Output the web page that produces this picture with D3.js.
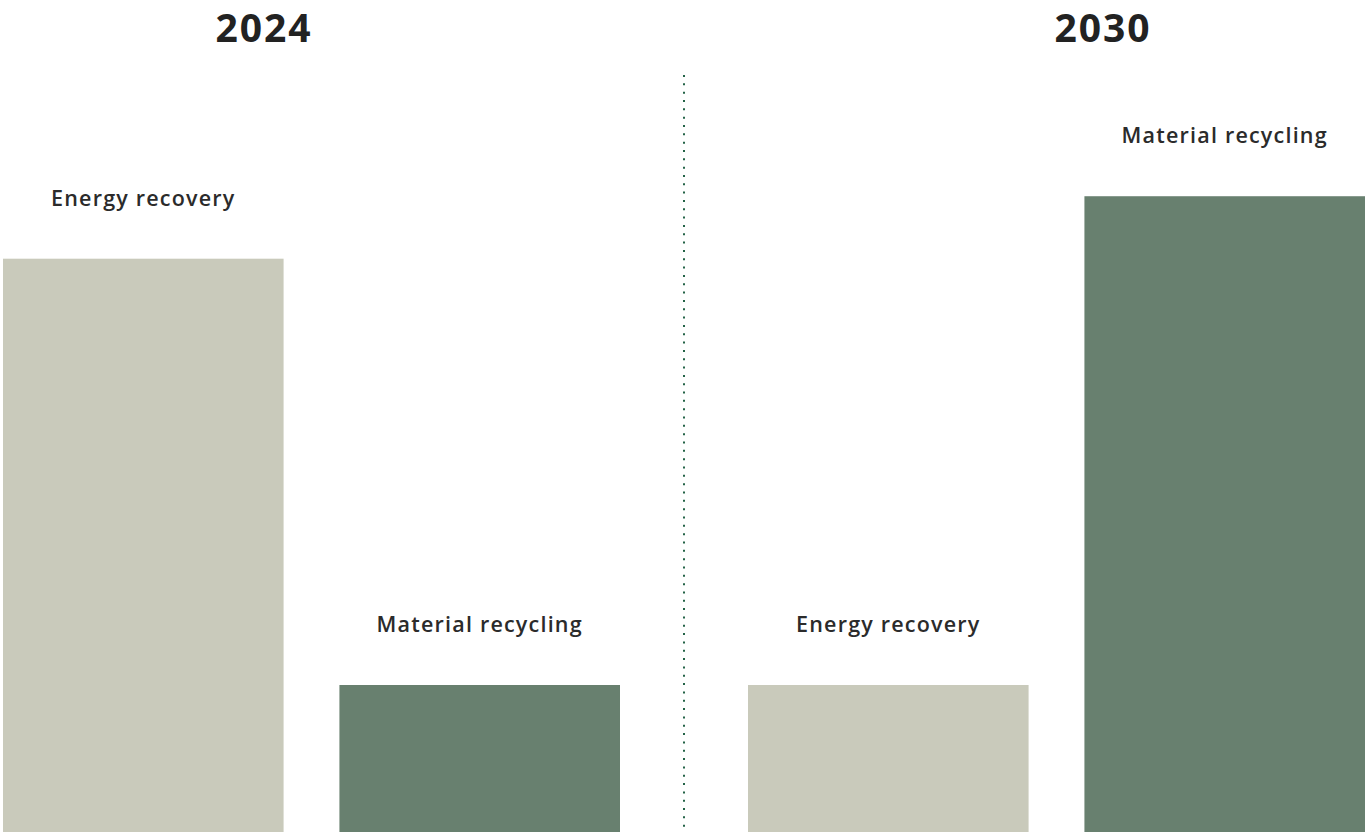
<!DOCTYPE html>
<html><head><meta charset="utf-8">
<script src="https://cdn.jsdelivr.net/npm/d3@7"></script>
<style>
html,body{margin:0;padding:0;background:#fff;}
svg{display:block;}
</style></head>
<body><svg id="chart" width="1367" height="832"></svg>
<script>
const years = ["2024", "2030"];
const categories = ["Energy recovery", "Material recycling"];
const values2024 = [78, 20];
const values2030 = [20, 86.5];
const colors = ["#c9cabb", "#68806f"];

const W = 1367, H = 832;
const svg = d3.select("#chart");
const y = d3.scaleLinear().domain([0, 100]).range([832, 97]);

const panels = [
  {year: years[0], values: values2024, range: [3, 620], titleX: 264},
  {year: years[1], values: values2030, range: [748, 1365], titleX: 1103}
];

panels.forEach(p => {
  const x = d3.scaleBand().domain(categories).range(p.range).paddingInner(0.166).paddingOuter(0);
  const g = svg.append("g");
  g.selectAll("rect").data(categories).join("rect")
    .attr("x", d => x(d))
    .attr("width", x.bandwidth())
    .attr("y", (d, i) => y(p.values[i]))
    .attr("height", (d, i) => y(0) - y(p.values[i]))
    .attr("fill", (d, i) => colors[i]);
  g.selectAll("text.lbl").data(categories).join("text")
    .attr("class", "lbl")
    .attr("x", d => x(d) + x.bandwidth() / 2)
    .attr("y", (d, i) => y(p.values[i]) - 53)
    .attr("text-anchor", "middle")
    .attr("font-family", "'Open Sans', sans-serif")
    .attr("font-weight", 600)
    .attr("font-size", 21.5)
    .attr("letter-spacing", 1.2)
    .attr("fill", "#2b2b2b")
    .text(d => d);
  svg.append("text")
    .attr("x", p.titleX)
    .attr("y", 42)
    .attr("text-anchor", "middle")
    .attr("font-family", "'Open Sans', sans-serif")
    .attr("font-weight", 700)
    .attr("font-size", 39)
    .attr("letter-spacing", 2)
    .attr("fill", "#222")
    .text(p.year);
});

svg.append("line")
  .attr("x1", 684).attr("x2", 684)
  .attr("y1", 75).attr("y2", 832)
  .attr("stroke", "#236347")
  .attr("stroke-width", 2)
  .attr("stroke-dasharray", "2 6.33");
</script></body></html>
